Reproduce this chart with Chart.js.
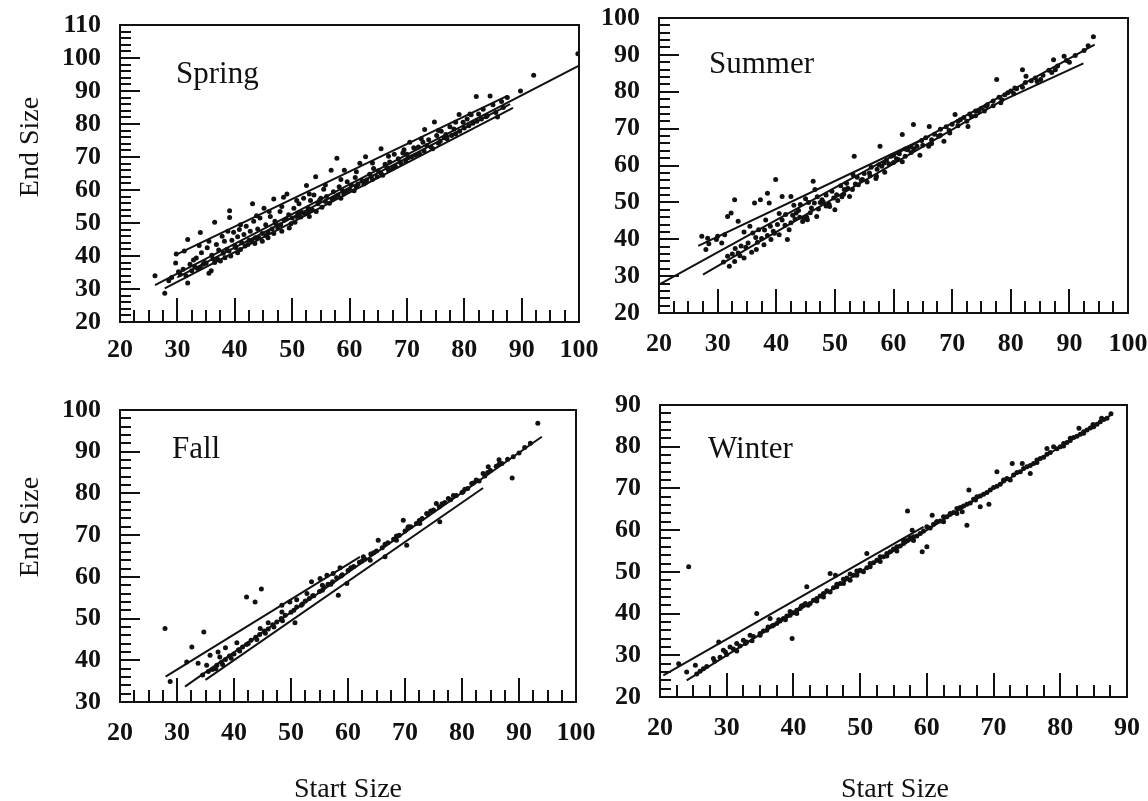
<!DOCTYPE html>
<html>
<head>
<meta charset="utf-8">
<script src="https://cdn.jsdelivr.net/npm/chart.js@4"></script>
<style>
body { margin: 0; background: #fff; }
#wrap { position: relative; width: 1148px; height: 801px; font-family: "Liberation Serif", "Times New Roman", serif; color: #111; }
.panel { position: absolute; }
.season { position: absolute; font-size: 31px; line-height: 1; white-space: nowrap; }
.title { position: absolute; font-size: 28px; line-height: 1; white-space: nowrap; transform: translate(-50%, -50%); }
.title.rot { transform: translate(-50%, -50%) rotate(-90deg); }
</style>
</head>
<body>
<div id="wrap">
  <div class="panel" style="left:0;top:0;width:600px;height:380px"><canvas id="c1"></canvas></div>
  <div class="panel" style="left:580px;top:0;width:568px;height:380px"><canvas id="c2"></canvas></div>
  <div class="panel" style="left:0;top:380px;width:600px;height:421px"><canvas id="c3"></canvas></div>
  <div class="panel" style="left:580px;top:380px;width:568px;height:421px"><canvas id="c4"></canvas></div>
  <div class="season" style="left:176px;top:57px">Spring</div>
  <div class="season" style="left:709px;top:47px">Summer</div>
  <div class="season" style="left:172px;top:432px">Fall</div>
  <div class="season" style="left:708px;top:432px">Winter</div>
  <div class="title rot" style="left:29px;top:147px">End Size</div>
  <div class="title rot" style="left:29px;top:527px">End Size</div>
  <div class="title" style="left:348px;top:788px">Start Size</div>
  <div class="title" style="left:895px;top:788px">Start Size</div>
</div>
<script>
// axis ranges [min, max]
var springX = [20, 100], springY = [20, 110];
var summerX = [20, 100], summerY = [20, 100];
var fallX = [20, 100], fallY = [30, 100];
var winterX = [20, 90], winterY = [20, 90];

// minor tick steps, labels only every 10
var xStep = 2.5, yStep = 2, labelEvery = 10;

var springPoints = [
  [26.1,34.0],[27.8,28.7],[28.5,32.5],[29.0,33.5],[29.7,37.9],[29.8,40.6],[30.5,34.5],[31.0,36.0],[31.8,45.0],[31.8,31.8],
  [32.2,37.5],[32.8,38.8],[33.3,39.4],[33.5,36.2],[34.0,47.1],[34.2,41.0],[34.8,38.0],[35.2,42.5],[35.5,34.8],[35.9,35.5],
  [36.0,40.2],[36.5,50.2],[36.8,43.5],[37.2,41.8],[37.5,38.5],[37.8,46.0],[38.2,44.5],[38.6,42.0],[39.1,53.7],[39.1,51.7],
  [39.3,40.0],[39.5,44.8],[39.8,47.2],[40.2,42.5],[40.5,45.8],[40.8,48.0],[41.2,44.0],[41.6,46.5],[42.0,49.0],[42.3,43.5],
  [42.7,47.5],[43.1,55.8],[43.3,50.5],[43.6,45.5],[44.0,48.2],[44.4,51.5],[44.8,46.8],[45.1,54.5],[45.4,49.5],[45.8,47.2],
  [46.2,52.0],[46.8,57.3],[47.0,50.5],[47.5,48.5],[47.9,53.5],[48.5,57.8],[48.6,50.8],[49.1,58.8],[49.4,52.5],[49.8,49.8],
  [50.3,54.5],[50.8,52.0],[51.2,55.8],[51.7,53.2],[52.0,57.5],[52.5,61.4],[52.8,54.5],[53.2,56.8],[53.8,58.5],[54.1,64.0],
  [54.5,55.8],[55.0,57.5],[55.5,60.2],[56.0,58.0],[56.8,66.0],[57.2,59.5],[57.8,69.6],[58.2,61.0],[58.8,59.8],[59.1,66.0],
  [59.6,62.5],[60.3,61.5],[61.0,63.8],[61.8,68.1],[62.2,62.8],[62.8,70.1],[63.5,64.8],[64.2,66.5],[65.0,65.8],[65.5,72.5],
  [66.2,67.8],[67.0,68.5],[67.8,70.8],[68.5,69.5],[69.3,71.2],[70.0,70.8],[70.5,74.5],[71.2,72.8],[72.0,73.0],[72.8,74.5],
  [73.1,78.3],[73.8,75.2],[74.8,80.6],[75.2,76.5],[76.0,77.8],[76.8,76.8],[77.5,79.2],[78.2,78.5],[79.1,82.9],[79.8,80.5],
  [80.5,81.5],[81.2,82.8],[82.1,88.3],[82.5,83.0],[83.3,84.5],[84.5,88.5],[85.0,85.8],[85.8,82.1],[86.5,86.8],[87.5,88.0],
  [89.8,90.0],[92.1,94.8],[99.8,101.3],
  [30.2,35.2],[33.0,36.8],[34.5,37.5],[36.2,39.2],[37.0,39.0],[38.0,40.8],[40.0,43.2],[41.0,42.0],[43.0,44.6],[44.2,45.5],
  [45.5,46.2],[46.5,48.2],[48.0,49.5],[49.0,51.2],[50.0,51.5],[51.0,53.0],[52.3,52.8],[53.5,54.0],[54.8,57.0],[55.8,56.5],
  [57.0,57.2],[58.0,58.5],[59.0,58.8],[60.0,60.2],[61.2,61.0],[62.5,61.8],[63.0,63.0],[64.0,63.2],[65.8,64.5],[66.8,66.0],
  [68.0,67.2],[69.0,68.0],[70.2,69.8],[71.5,70.5],[73.0,71.8],[74.2,73.0],[75.5,74.2],[77.0,75.5],[78.5,77.0],[80.0,78.8],
  [81.5,80.2],[83.0,81.5],[84.0,82.5],
  [31.5,34.0],[32.5,35.5],[34.0,36.5],[35.0,37.8],[36.5,38.0],[38.3,39.5],[39.0,41.5],[40.5,41.0],[41.8,43.0],[42.5,44.8],
  [43.5,43.8],[44.8,44.5],[45.8,45.5],[46.8,46.8],[47.2,49.8],[48.2,47.5],[49.5,48.5],[50.5,50.2],[51.5,51.8],[52.8,53.5],
  [53.0,52.0],[54.2,53.5],[55.2,54.8],[56.5,56.0],[57.5,57.8],[58.5,57.5],[59.5,59.8],[60.8,59.8],[61.5,61.8],[62.8,62.2],
  [63.8,64.0],[64.8,64.0],[65.5,65.0],[66.5,66.8],[67.5,66.5],[68.8,68.5],[69.8,68.8],[70.8,70.0],[72.2,71.0],[73.5,73.5],
  [74.5,72.5],[75.8,74.8],[76.5,75.8],[77.8,76.5],[79.2,77.8],[80.8,79.5],[82.2,80.8],[83.8,82.2],[85.5,83.5],[86.8,85.0],
  [31.2,41.5],[33.8,43.2],[35.5,44.5],[38.8,47.5],[41.0,49.5],[43.8,52.2],[46.0,53.5],[48.2,55.0],[50.8,56.8],[53.0,58.8],
  [55.8,61.5],[58.5,63.2],[61.2,65.5],[64.0,68.2],[66.8,70.2],[69.5,72.2],[72.5,75.5],[75.5,78.0],[78.5,80.5],[81.0,83.0]
];
var springLines = [
  [[26.1,31.2],[100,97.7]],
  [[29.8,40.4],[87.5,88.5]],
  [[27.8,30.2],[88.5,84.9]],
  [[30.0,33.5],[88.0,86.0]]
];

var summerPoints = [
  [27.3,40.8],[28.3,40.3],[28.0,37.2],[29.8,39.9],[30.7,39.0],[31.7,46.2],[32.3,47.1],[32.9,50.7],[33.5,44.9],[31.7,35.4],
  [32.0,32.7],[32.9,34.0],[34.5,34.9],[33.5,36.3],[36.3,49.8],[37.3,50.7],[38.5,52.5],[38.8,49.8],[39.9,56.2],[37.0,42.6],
  [36.0,41.7],[36.6,37.2],[37.9,38.5],[39.1,39.9],[39.7,41.6],[41.0,51.6],[42.5,51.6],[41.6,46.7],[42.2,42.6],[41.9,39.9],
  [44.1,49.4],[43.4,47.1],[44.7,45.8],[45.3,45.3],[46.6,53.5],[46.3,55.7],[46.9,46.2],[47.8,50.7],[49.1,48.9],[50.0,48.0],
  [50.3,52.1],[51.6,53.5],[52.5,51.6],[53.1,57.5],[53.3,62.5],[54.7,56.2],[55.9,58.0],[57.1,57.1],[57.7,65.2],[58.4,60.7],
  [59.6,62.5],[60.8,61.6],[61.5,68.4],[62.4,64.3],[63.4,71.1],[64.0,65.2],[66.1,70.6],[66.5,67.0],[67.7,67.9],[68.6,66.6],
  [69.6,68.8],[70.5,73.8],[71.4,72.4],[72.7,70.6],[73.3,73.3],[74.5,74.7],[75.8,76.1],[77.6,83.3],[78.3,77.0],[79.5,79.7],
  [80.7,81.0],[82.0,86.0],[82.6,84.2],[84.2,83.7],[85.1,83.3],[87.3,88.7],[87.6,86.0],[89.1,89.6],[93.2,92.5],[94.1,94.9],
  [45.5,50.0],[47.0,51.5],[48.5,52.0],[49.5,53.0],[51.0,54.5],[52.0,55.2],[53.8,56.8],[55.0,57.8],[56.2,59.5],[57.5,60.2],
  [58.8,61.5],[60.0,62.8],[61.0,63.2],[62.0,64.5],[63.0,65.0],[64.8,66.8],[65.5,67.5],[67.0,68.5],[68.0,69.8],[69.0,70.5],
  [70.0,71.2],[71.0,72.0],[72.0,73.0],[73.0,74.0],[74.0,74.8],[75.0,75.5],[76.0,76.5],[77.0,77.5],[78.0,78.5],[79.0,79.2],
  [80.0,80.2],[81.0,80.8],[82.5,82.5],[83.5,83.0],[85.5,84.5],[86.5,85.8],[88.0,87.0],[89.5,88.5],[91.0,89.8],[92.5,91.2],
  [33.0,37.5],[34.0,38.2],[35.2,39.0],[36.5,40.5],[38.0,42.5],[39.0,43.5],[40.2,44.0],[41.0,45.2],[42.8,46.5],[43.8,47.8],
  [44.5,44.8],[45.2,46.0],[46.0,48.5],[47.2,48.2],[48.0,50.2],[49.0,49.5],[50.5,50.5],[51.5,52.2],[53.0,53.5],[54.0,54.8],
  [55.5,55.5],[57.0,56.5],[58.5,58.2],[60.0,60.8],[61.5,61.0],[63.0,63.5],[64.5,62.8],[66.0,65.2],
  [31.0,33.8],[32.5,36.0],[33.8,35.5],[34.8,37.8],[35.8,36.5],[36.8,39.2],[37.5,40.2],[38.5,41.0],[39.5,42.2],[40.5,41.2],
  [41.5,43.8],[42.5,44.5],[43.2,45.5],[44.0,46.0],[45.8,47.2],[46.5,49.8],[47.5,50.0],[48.5,49.0],[49.8,51.2],[51.2,51.5],
  [52.2,53.8],[53.5,55.0],[54.5,56.0],[56.0,57.2],[57.2,59.0],[58.0,59.8],[59.2,60.5],[60.5,61.8],[62.0,62.5],[63.5,64.5],
  [65.0,65.5],[66.5,66.0],[68.0,68.2],[69.5,69.5],[71.0,70.8],[72.5,72.0],[74.0,73.5],[75.5,74.8],[77.0,76.2],[78.5,77.8],
  [80.5,79.5],[82.0,81.2],[84.5,82.8],[87.0,85.2],[90.0,88.0],
  [28.5,38.8],[30.0,40.8],[31.2,41.2],[34.5,42.0],[35.5,43.5],[38.2,45.2],[40.5,47.0],[43.0,49.2],[45.0,51.0]
];
var summerLines = [
  [[20,27.7],[94.3,92.8]],
  [[26.7,38.2],[66.2,68.0]],
  [[27.5,30.4],[78.2,77.3],[92.4,87.7]]
];

var fallPoints = [
  [27.9,47.6],[28.8,34.9],[32.6,43.2],[34.7,46.8],[31.7,39.6],[33.7,39.3],[35.2,38.8],[35.8,41.2],[37.2,42.0],[37.5,40.8],
  [42.2,55.2],[43.7,54.0],[44.8,57.1],[44.6,47.6],[48.4,53.2],[49.8,54.0],[48.4,51.6],[50.7,49.0],[53.6,58.8],[55.1,59.6],
  [56.3,60.4],[57.4,60.8],[58.6,62.2],[58.3,55.6],[59.8,58.4],[62.7,64.8],[63.9,64.0],[65.3,68.8],[66.5,64.8],[68.5,68.8],
  [69.7,73.6],[70.3,67.6],[70.6,72.0],[72.6,72.8],[73.8,75.2],[75.5,77.6],[76.1,73.2],[77.6,78.8],[80.2,80.4],[81.7,82.4],
  [83.7,84.8],[84.6,86.4],[86.5,88.1],[88.8,83.7],[90.0,89.7],[92.0,92.0],[93.3,96.8],
  [34.5,36.5],[35.5,37.3],[36.2,37.8],[37.0,38.8],[37.8,39.5],[38.5,40.2],[39.2,41.0],[40.0,41.5],[40.8,42.5],[41.5,43.2],
  [42.2,43.8],[43.0,44.8],[43.8,45.5],[44.5,46.2],[45.3,47.0],[46.0,47.5],[46.8,48.5],[47.5,49.2],[48.3,50.0],[49.0,50.8],
  [50.0,51.5],[51.0,52.8],[51.8,53.2],[52.5,54.2],[53.2,54.8],[54.0,55.5],[55.0,56.5],[55.8,57.5],[56.5,58.2],[57.3,58.8],
  [58.0,59.8],[59.0,60.5],[60.0,61.5],[61.0,62.5],[62.0,63.5],[63.0,64.2],[64.0,65.5],[65.0,66.2],[66.0,67.0],[67.0,68.2],
  [68.0,69.0],[69.0,70.0],[70.0,71.0],[71.0,72.0],[72.0,72.8],[73.0,74.0],[74.0,75.0],[75.0,76.0],[76.0,76.8],[77.0,77.8],
  [78.0,78.5],[79.0,79.5],[80.0,80.2],[81.0,81.2],[82.0,82.5],[83.0,83.0],[84.0,84.2],[85.0,85.5],[86.0,86.5],[87.0,87.2],
  [36.8,38.0],[38.0,39.0],[39.5,40.5],[41.0,42.2],[42.5,44.0],[44.0,45.0],[45.5,46.5],[47.0,48.0],[48.5,49.5],[50.5,52.0],
  [52.0,53.5],[53.8,55.5],[55.5,56.8],[57.0,58.2],[58.8,60.2],[60.5,62.2],[62.5,63.8],[64.5,65.8],[66.5,67.8],[68.5,69.8],
  [70.5,71.8],[72.5,73.5],[74.5,75.8],[76.5,77.5],[78.5,79.5],[80.5,81.0],[82.5,83.2],[84.5,85.0],[86.5,87.0],[88.0,88.2],
  [89.0,88.8],[91.0,91.0],
  [38.5,43.0],[40.5,44.2],[46.0,49.0],[51.0,54.5],[52.8,56.0],[55.5,58.0]
];
var fallLines = [
  [[28.0,36.1],[62.1,64.8]],
  [[31.4,33.7],[94.0,93.6]],
  [[35.0,35.3],[83.7,81.3]]
];

var winterPoints = [
  [24.3,51.2],[22.8,28.0],[24.0,26.0],[25.3,27.6],[26.5,26.8],[28.0,29.2],[28.8,33.2],[29.5,31.2],[30.5,32.0],[31.5,32.8],
  [32.5,33.6],[33.5,34.8],[34.5,40.0],[35.0,35.2],[36.0,36.0],[36.5,38.8],[37.5,37.6],[38.5,38.8],[39.5,39.6],[39.8,34.0],
  [40.5,40.8],[41.5,42.0],[42.0,46.4],[42.5,42.4],[43.5,43.6],[44.5,44.8],[45.5,49.6],[46.3,49.2],[46.5,46.4],[47.5,47.2],
  [48.5,48.0],[49.5,49.2],[51.0,54.4],[51.5,51.2],[53.0,53.6],[54.0,54.4],[55.5,56.0],[56.5,57.6],[57.1,64.6],[57.8,60.0],
  [58.0,58.4],[59.3,54.8],[60.0,56.0],[60.8,63.6],[61.5,62.0],[62.5,63.2],[63.5,64.0],[64.5,65.2],[65.3,64.4],[66.0,61.2],
  [66.3,69.6],[67.3,67.2],[68.0,65.6],[69.3,66.2],[69.5,69.6],[70.5,74.0],[71.5,72.0],[72.8,76.0],[74.3,76.0],[75.5,73.6],
  [76.5,76.8],[78.0,79.6],[79.0,80.0],[80.5,80.8],[81.5,82.0],[82.8,84.4],[83.5,83.6],[84.9,85.3],[86.2,86.8],[87.6,87.9],
  [27.0,27.3],[28.2,28.6],[30.0,30.2],[31.0,31.5],[32.0,32.2],[33.0,33.2],[34.0,34.5],[35.5,35.8],[36.2,36.8],[37.0,37.2],
  [38.0,38.2],[39.0,39.4],[40.0,40.2],[41.0,41.2],[41.8,42.4],[43.0,43.2],[44.0,44.2],[45.0,45.5],[46.0,46.2],[47.0,47.2],
  [48.0,48.5],[49.0,49.2],[50.0,50.4],[51.0,51.0],[52.0,52.2],[53.5,53.6],[54.5,54.8],[55.0,55.5],[56.0,56.2],[57.0,57.5],
  [58.5,58.6],[59.0,59.2],[60.5,60.5],[61.0,61.4],[62.0,62.2],[63.0,63.2],[64.0,64.2],[65.0,65.4],[66.5,66.5],[67.0,67.4],
  [68.5,68.6],[70.0,70.2],[71.0,71.0],[72.0,72.4],[73.0,73.2],[74.0,74.0],[75.0,75.2],[76.0,76.0],[77.0,77.2],[78.5,78.6],
  [80.0,80.0],[81.0,81.0],[82.0,82.2],[83.0,83.0],[84.0,84.0],[85.5,85.4],[86.5,86.5],
  [25.5,25.5],[26.0,26.2],[29.0,29.5],[29.8,30.8],[31.5,31.0],[32.8,32.8],[33.8,33.5],[35.0,34.8],[36.8,37.0],[37.8,38.5],
  [38.8,38.5],[39.5,40.5],[40.5,40.0],[41.2,41.8],[42.2,42.0],[43.5,43.0],[44.5,44.0],[45.5,45.2],[46.5,47.0],[47.5,48.2],
  [48.5,49.5],[49.5,50.2],[50.5,50.0],[51.5,52.0],[52.5,52.8],[53.0,52.5],[54.0,53.8],[55.5,55.0],[56.5,56.8],[57.5,58.2],
  [58.0,57.5],[59.5,59.8],[60.0,60.8],[61.5,62.0],[62.5,62.0],[63.5,63.8],[64.5,64.0],[65.5,65.8],[66.0,66.2],[67.5,68.0],
  [68.0,68.2],[69.0,69.0],[70.5,70.5],[71.5,71.8],[72.5,72.0],[73.5,73.8],[74.5,74.8],[75.5,75.5],[76.5,76.2],[77.5,77.5],
  [78.0,78.2],[79.5,79.5],[80.5,80.2],[81.5,81.5],[82.5,82.5],[83.5,83.2],[84.5,84.5],[85.0,84.8],[86.0,86.0],[87.0,86.8]
];
var winterLines = [
  [[20.5,25.2],[59.5,60.8]],
  [[24.0,24.0],[87.6,87.6]]
];

// frame + inward tick marks, drawn from the chart's own scales
var framePlugin = {
    id: 'frame',
    afterDraw: function (chart) {
        var ctx = chart.ctx;
        var a = chart.chartArea;
        var xs = chart.scales.x, ys = chart.scales.y;
        ctx.save();
        ctx.strokeStyle = '#111';
        ctx.lineWidth = 2;
        ctx.strokeRect(a.left, a.top, a.right - a.left, a.bottom - a.top);
        ctx.beginPath();
        xs.ticks.forEach(function (t) {
            var px = Math.round(xs.getPixelForValue(t.value));
            var len = t.value % labelEvery === 0 ? 24 : 12;
            ctx.moveTo(px, a.bottom);
            ctx.lineTo(px, a.bottom - len);
        });
        ys.ticks.forEach(function (t) {
            var py = Math.round(ys.getPixelForValue(t.value));
            var len = t.value % labelEvery === 0 ? 20 : 11;
            ctx.moveTo(a.left, py);
            ctx.lineTo(a.left + len, py);
        });
        ctx.stroke();
        ctx.restore();
    }
};

function toXY(pairs) {
    return pairs.map(function (p) { return { x: p[0], y: p[1] }; });
}

function makePanel(id, points, lines, xr, yr, box) {
    var datasets = [{
        data: toXY(points),
        pointRadius: 2.5,
        pointBackgroundColor: '#111',
        pointBorderWidth: 0,
        showLine: false
    }];
    lines.forEach(function (l) {
        datasets.push({
            data: toXY(l),
            showLine: true,
            borderColor: '#111',
            borderWidth: 2,
            pointRadius: 0,
            fill: false
        });
    });
    var tickFont = { family: 'Liberation Serif', size: 26, weight: 'bold' };
    var label = function (v) { return v % labelEvery === 0 ? String(v) : ''; };
    // invisible tick lines give the label offset without adding to the layout padding
    var hiddenGrid = function (len) {
        return { display: true, drawOnChartArea: false, drawTicks: true, tickLength: len, color: 'rgba(0,0,0,0)' };
    };
    return new Chart(document.getElementById(id), {
        type: 'scatter',
        data: { datasets: datasets },
        plugins: [framePlugin],
        options: {
            responsive: true,
            maintainAspectRatio: false,
            animation: false,
            layout: { padding: { top: box.top, right: box.right, left: 0, bottom: 0 } },
            plugins: { legend: { display: false }, tooltip: { enabled: false } },
            scales: {
                x: {
                    type: 'linear', min: xr[0], max: xr[1],
                    grid: hiddenGrid(box.xpad),
                    border: { display: false },
                    ticks: { stepSize: xStep, autoSkip: false, maxRotation: 0, padding: 0, color: '#111', font: tickFont, callback: label },
                    afterFit: function (s) { s.height = box.xh; }
                },
                y: {
                    type: 'linear', min: yr[0], max: yr[1],
                    grid: hiddenGrid(19),
                    border: { display: false },
                    ticks: { stepSize: yStep, autoSkip: false, padding: 0, color: '#111', font: tickFont, callback: label },
                    afterFit: function (s) { s.width = box.yw; }
                }
            }
        }
    });
}

makePanel('c1', springPoints, springLines, springX, springY, { top: 25, right: 21, yw: 120, xh: 58, xpad: 13 });
makePanel('c2', summerPoints, summerLines, summerX, summerY, { top: 18, right: 20, yw: 79, xh: 67, xpad: 16 });
makePanel('c3', fallPoints, fallLines, fallX, fallY, { top: 30, right: 24, yw: 120, xh: 99, xpad: 16 });
makePanel('c4', winterPoints, winterLines, winterX, winterY, { top: 25, right: 21, yw: 80, xh: 104, xpad: 16 });
</script>
</body>
</html>
